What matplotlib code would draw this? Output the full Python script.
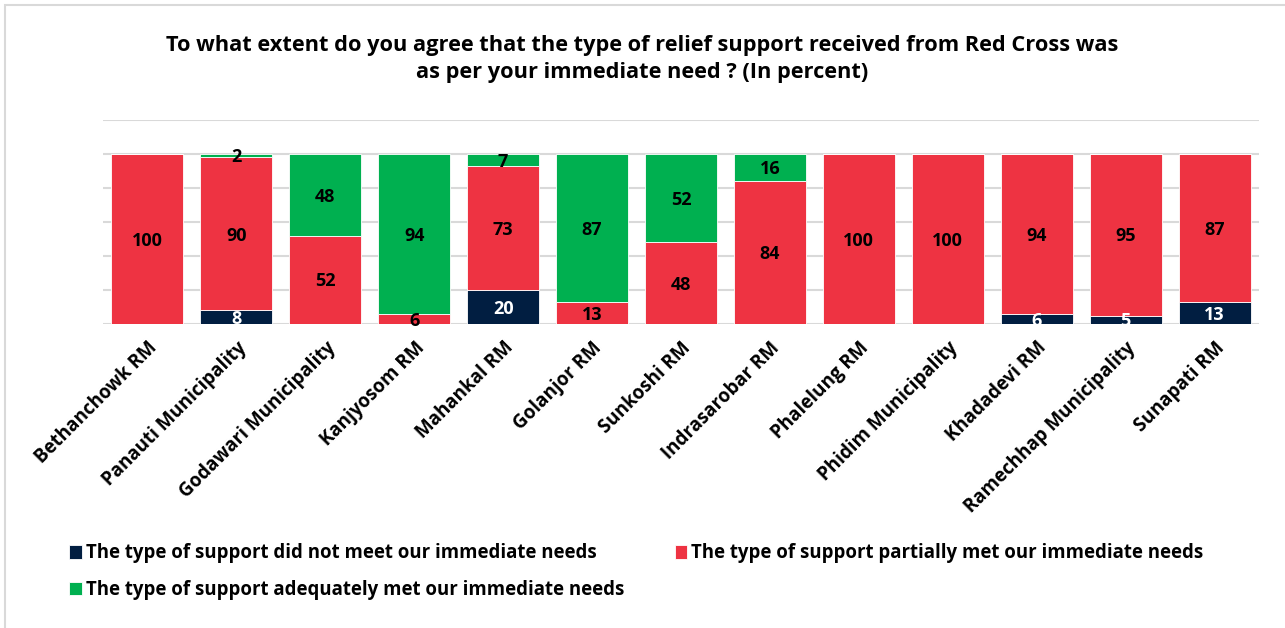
import matplotlib.pyplot as plt
import matplotlib.patches as mpatches
import numpy as np

plt.rcParams['font.family'] = ['Open Sans', 'DejaVu Sans']
plt.rcParams['font.weight'] = 'bold'

places = ['Bethanchowk RM', 'Panauti Municipality', 'Godawari Municipality',
          'Kanjyosom RM', 'Mahankal RM', 'Golanjor RM', 'Sunkoshi RM',
          'Indrasarobar RM', 'Phalelung RM', 'Phidim Municipality',
          'Khadadevi RM', 'Ramechhap Municipality', 'Sunapati RM']
not_met = [0, 8, 0, 0, 20, 0, 0, 0, 0, 0, 6, 5, 13]
partially = [100, 90, 52, 6, 73, 13, 48, 84, 100, 100, 94, 95, 87]
adequately = [0, 2, 48, 94, 7, 87, 52, 16, 0, 0, 0, 0, 0]

series = [
    ('The type of support did not meet our immediate needs', not_met, '#011E41', 'white'),
    ('The type of support partially met our immediate needs', partially, '#EE3342', 'black'),
    ('The type of support adequately met our immediate needs', adequately, '#00B050', 'black'),
]

fig = plt.figure(figsize=(12.85, 6.28), dpi=100)
ax = fig.add_axes([103 / 1285, 1 - 324 / 628, 1156 / 1285, 204 / 628])

x = np.arange(len(places))
bottom = np.zeros(len(places))
handles = {}
for name, vals, color, txtcolor in series:
    vals = np.array(vals, dtype=float)
    bars = ax.bar(x, vals, 0.81, bottom=bottom, color=color, edgecolor='white',
                  linewidth=0.6, zorder=3)
    handles[name] = bars
    for xi, v, b in zip(x, vals, bottom):
        if v > 0:
            ax.text(xi, b + v / 2 - 1, '%d' % v, ha='center', va='center',
                    fontsize=13, fontweight='bold', color=txtcolor, zorder=4)
    bottom += vals

ax.set_xlim(-0.5, len(places) - 0.5)
ax.set_ylim(0, 120)
ax.set_yticks(np.arange(0, 121, 20))
ax.yaxis.grid(True, color='#D9D9D9', linewidth=1.5, zorder=0)
ax.tick_params(axis='y', left=False, labelleft=False)
ax.tick_params(axis='x', length=0, pad=10)
for s in ax.spines.values():
    s.set_visible(False)

ax.set_xticks(x)
ax.set_xticklabels(places, rotation=45, ha='right', rotation_mode='anchor',
                   fontsize=13.5, fontweight='bold')

fig.text(0.5, 1 - 59 / 628,
         'To what extent do you agree that the type of relief support received from Red Cross was\n'
         'as per your immediate need ? (In percent)',
         ha='center', va='center', fontsize=15.7, fontweight='bold',
         linespacing=1.36)

order = [series[0][0], series[2][0], series[1][0]]
fig.legend([handles[n] for n in order], order, ncol=2, frameon=False,
           loc='upper left', bbox_to_anchor=(62 / 1285, 1 - 536 / 628),
           fontsize=13.4, handlelength=0.65, handleheight=0.72, handletextpad=0.22,
           columnspacing=2.75, labelspacing=0.9, borderaxespad=0)

fig.patches.append(mpatches.Rectangle((5 / 1285, -0.02), 1.0, 1 - 5 / 628 + 0.02,
                                      transform=fig.transFigure, fill=False,
                                      edgecolor='#D9D9D9', linewidth=1.5))

fig.savefig('out.png', dpi=100)
